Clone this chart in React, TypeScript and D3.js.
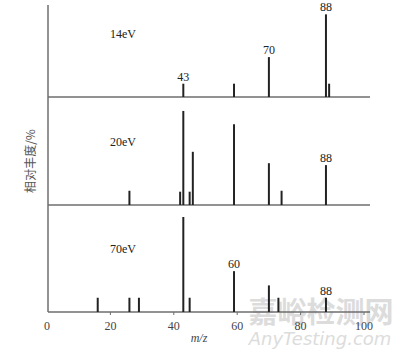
import * as React from 'react'
import * as d3 from 'd3'

// peak lists per ionisation energy: m/z and relative abundance (%)
const panels = ['14eV', '20eV', '70eV']

const mz14 = [43, 59, 70, 88, 89]
const ab14 = [14, 14, 42, 87, 14]

const mz20 = [26, 42, 43, 45, 46, 59, 70, 74, 88]
const ab20 = [15, 14, 99, 14, 56, 85, 44, 15, 42]

const mz70 = [16, 26, 29, 43, 45, 59, 70, 73, 88]
const ab70 = [15, 15, 15, 100, 15, 43, 28, 15, 15]

// labelled peaks: [panel index, m/z, text]
const peakLabels: [number, number, string][] = [
  [0, 43, '43'],
  [0, 70, '70'],
  [0, 88, '88'],
  [1, 88, '88'],
  [2, 59, '60'],
  [2, 88, '88'],
]

const xTicks = [0, 20, 40, 60, 80, 100]

const W = 400
const H = 354
const serif = '"Liberation Serif", "Times New Roman", serif'

export default function App() {
  const x = d3.scaleLinear().domain([0, 100]).range([47, 364])
  const baselines = [97, 205, 312]
  const y = d3.scaleLinear().domain([0, 100]).range([0, 95])
  const series = [
    { mz: mz14, ab: ab14 },
    { mz: mz20, ab: ab20 },
    { mz: mz70, ab: ab70 },
  ]
  const axisX = x(0) + 1
  const axisColor = '#6e6e6e'

  return (
    <svg width={W} height={H} style={{ position: 'absolute', left: 0, top: 0, background: '#fff' }}>
      {/* watermark */}
      <g fill="#dcdcdc" style={{ userSelect: 'none' }}>
        <text x={321} y={323} textAnchor="middle" fontSize={29} fontWeight={700}
          fontFamily='"Noto Sans CJK SC", sans-serif'>嘉峪检测网</text>
        <text x={320} y={345} textAnchor="middle" fontSize={18} fontStyle="italic"
          fontFamily='"DejaVu Sans", sans-serif'>AnyTesting.com</text>
      </g>

      {/* y axis */}
      <line x1={axisX} x2={axisX} y1={5} y2={baselines[2]} stroke={axisColor} strokeWidth={1.5} />

      {series.map((s, i) => {
        const b = baselines[i]
        return (
          <g key={panels[i]}>
            <line x1={axisX} x2={370} y1={b} y2={b} stroke={axisColor} strokeWidth={1.5} />
            {s.mz.map((m, j) => (
              <line key={j} x1={x(m)} x2={x(m)} y1={b} y2={b - y(s.ab[j])}
                stroke="#222" strokeWidth={2} />
            ))}
            <text x={123} y={b - 59.5} textAnchor="middle" fontSize={12} fontFamily={serif} fill="#222">
              {panels[i]}
            </text>
          </g>
        )
      })}

      {peakLabels.map(([p, m, t], k) => {
        const s = series[p]
        const a = s.ab[s.mz.indexOf(m)]
        return (
          <text key={k} x={x(m)} y={baselines[p] - y(a) - 3} textAnchor="middle"
            fontSize={12} fontFamily={serif} fill="#222">{t}</text>
        )
      })}

      {/* x ticks */}
      {xTicks.map(t => (
        <g key={t}>
          {t > 0 && <line x1={x(t)} x2={x(t)} y1={baselines[2]} y2={baselines[2] + 3}
            stroke={axisColor} strokeWidth={1} />}
          <text x={x(t)} y={330} textAnchor="middle" fontSize={12} fontFamily={serif} fill="#444">{t}</text>
        </g>
      ))}
      <text x={199} y={342} textAnchor="middle" fontSize={12} fontStyle="italic" fontFamily={serif} fill="#444">m/z</text>

      <text transform="translate(35,161) rotate(-90)" textAnchor="middle" fontSize={12}
        fontFamily='"Noto Sans CJK SC", sans-serif' fill="#555">相对丰度/%</text>
    </svg>
  )
}
